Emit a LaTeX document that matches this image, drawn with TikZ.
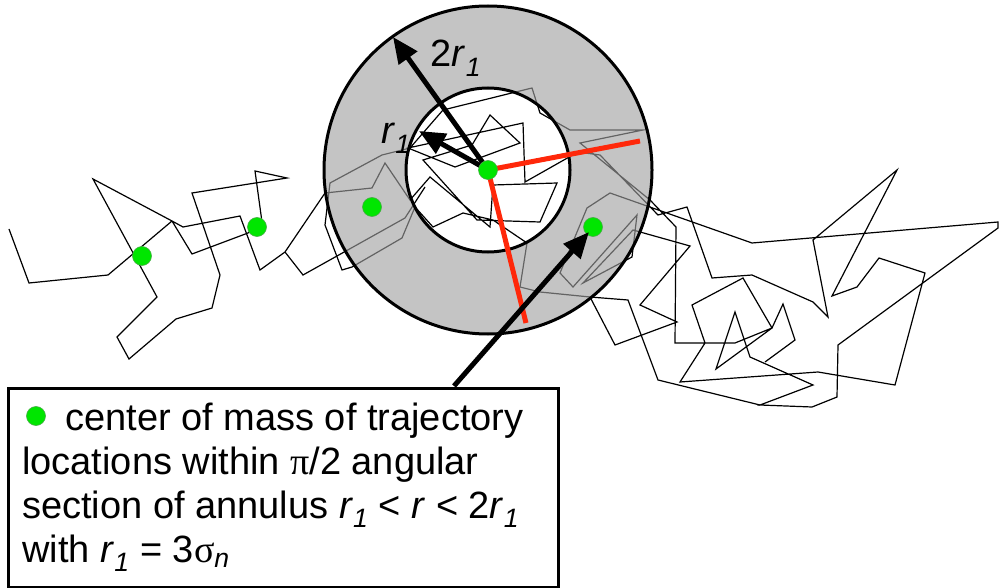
\documentclass[tikz,border=0pt]{standalone}
\usepackage{fontspec}
\setmainfont{Liberation Sans}
\newfontfamily\greekfont{Liberation Serif}
\usepackage{tikz}
\usetikzlibrary{arrows.meta, positioning}
\definecolor{dotgreen}{RGB}{0,230,0}
\definecolor{dotedge}{RGB}{70,170,70}
\definecolor{cutred}{RGB}{255,40,10}
\definecolor{ringgray}{RGB}{160,160,160}
\newcommand{\rone}{\textit{r}\textsubscript{\textit{1}}}
\tikzset{
  walk/.style={line width=1.2pt, black, line join=miter},
  ring/.style={line width=3pt, black},
  cutline/.style={line width=5pt, color=cutred},
  bigarrow/.style={-{Triangle[length=26pt, width=22pt]}, line width=5pt, black},
  cmdot/.style={circle, fill=dotgreen, draw=dotedge, line width=0.6pt,
    minimum size=19pt, inner sep=0pt},
  lbl/.style={font=\fontsize{38}{44}\selectfont, inner sep=0pt},
  txtline/.style={font=\fontsize{38}{44}\selectfont, inner sep=0pt, anchor=base west}
}

\begin{document}
\begin{tikzpicture}[x=1pt, y=-1pt]
  \useasboundingbox (0,0) rectangle (999,588);

  % Trajectory
  \draw[walk] (9,229) -- (29,283) -- (108,275) -- (172,221) -- (93,179) -- (157,297)
    -- (117,337) -- (129,359) -- (176,319) -- (212,308) -- (220,275) -- (192,193)
    -- (287,178) -- (255,171) -- (262,222) -- (248,233) -- (192,254) -- (172,221)
    -- (183,227) -- (240,216) -- (260,270) -- (285,252) -- (325,193) -- (372,188)
    -- (385,163) -- (410,200) -- (430,177) -- (490,227) -- (493,185) -- (557,183)
    -- (540,222) -- (477,220) -- (423,160) -- (472,145) -- (490,115) -- (520,143)
    -- (455,167) -- (408,148) -- (523,123) -- (525,182) -- (578,152) -- (600,155)
    -- (658,215) -- (687,207) -- (712,278) -- (752,275) -- (813,302) -- (828,317)
    -- (813,240) -- (897,170) -- (832,296) -- (857,287) -- (879,258) -- (925,273)
    -- (895,385) -- (818,372) -- (680,382) -- (705,343) -- (692,305) -- (743,278)
    -- (772,328) -- (716,369) -- (735,312) -- (750,357) -- (813,385) -- (760,405)
    -- (812,407) -- (837,397) -- (838,345) -- (998,228) -- (998,222) -- (752,243)
    -- (610,193) -- (587,208) -- (560,273) -- (573,287) -- (637,215) -- (632,257)
    -- (583,283) -- (633,230) -- (690,246) -- (640,305) -- (677,322) -- (615,345)
    -- (590,297) -- (540,292) -- (520,287) -- (527,243) -- (493,220) -- (463,213)
    -- (433,227) -- (415,207) -- (402,238) -- (352,267) -- (342,270) -- (325,225)
    -- (330,183) -- (382,155) -- (410,148) -- (443,110) -- (532,88) -- (540,113)
    -- (570,130) -- (643,130) -- (580,143) -- (650,200) -- (676,227) -- (675,343)
    -- (735,343) -- (772,328) -- (783,304) -- (795,340) -- (765,362);
  \draw[walk] (590,297) -- (628,300) -- (658,380) -- (760,405);
  \draw[walk] (285,252) -- (303,275) -- (405,218) -- (425,187);

  % Annulus
  \coordinate (C) at (488,170);
  \fill[ringgray, fill opacity=0.62, even odd rule] (C) circle (164pt) (C) circle (82pt);
  \draw[ring] (C) circle (164pt);
  \draw[ring] (C) circle (82pt);

  % Angular section
  \coordinate (cutA) at (640,141);
  \coordinate (cutB) at (526,323);
  \draw[cutline] (cutA) -- (C) -- (cutB);

  % Radii
  \coordinate (tipO) at (393,37);
  \coordinate (tipI) at (419,131);
  \draw[bigarrow] (C) -- (tipO);
  \draw[bigarrow] (C) -- (tipI);
  \node[lbl] (lblO) at (456,58) {2\rone};
  \node[lbl] (lblI) at (396,138) {\rone};

  % Centers of mass
  \node[cmdot] (m0) at (C) {};
  \node[cmdot] (m1) at (372,207) {};
  \node[cmdot] (m2) at (593,227) {};
  \node[cmdot] (m3) at (257,227) {};
  \node[cmdot] (m4) at (142,256) {};

  % Legend
  \node[draw, line width=3pt, fill=white, anchor=north west, minimum width=550pt,
    minimum height=199pt, inner sep=0pt] (legend) at (7,387) {};
  \coordinate (tail) at (454,386);
  \draw[bigarrow] (tail) -- (589,232);
  \node[cmdot] (key) at (36,416) {};
  \node[txtline] (txt1) at (65,430) {center of mass of trajectory};
  \node[txtline] (txt2) at (22,474) {locations within {\greekfont π}/2 angular};
  \node[txtline] (txt3) at (22,518) {section of annulus \rone{} < \textit{r} < 2\rone};
  \node[txtline] (txt4) at (22,562) {with \rone{} = 3{\greekfont σ}\textsubscript{\textit{n}}};
\end{tikzpicture}
\end{document}
